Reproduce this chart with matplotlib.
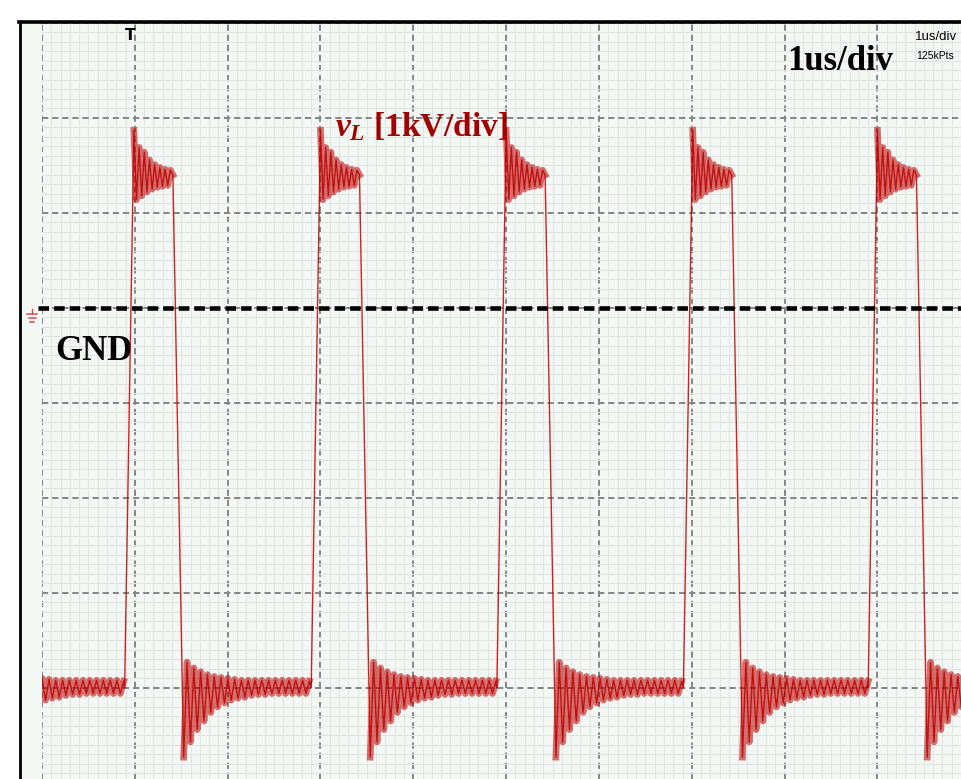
import numpy as np
import matplotlib.pyplot as plt
from matplotlib.lines import Line2D
from matplotlib.patches import Rectangle

plt.rcParams['mathtext.fontset'] = 'custom'
plt.rcParams['mathtext.rm'] = 'Liberation Serif:bold'
plt.rcParams['mathtext.it'] = 'Liberation Serif:italic:bold'

# screen: 1 us/div horizontal, 1 kV/div vertical
x_max = 9.9
y_top = 3.0
y_bottom = -4.96

# start of each rising edge [us]
rise_start = [-1.11, 0.89, 2.90, 4.90, 6.91, 8.90]

# one switching period, times relative to rise start [us], values [kV]
low_level = -4.0
rise_peak_t = 0.10
plateau_half = 0.028
plateau_peaks = [1.87, 1.69, 1.64, 1.56, 1.51, 1.48, 1.46, 1.45]
plateau_troughs = [1.14, 1.18, 1.22, 1.25, 1.27, 1.28, 1.29, 1.40]
fall_min_t = 0.636
low_half = 0.0366
low_troughs = [-4.73, -4.57, -4.44, -4.35, -4.26, -4.20, -4.16, -4.13, -4.11, -4.10,
               -4.08, -4.07, -4.07, -4.06, -4.06, -4.06, -4.06, -4.06, -4.06]
low_peaks = [-3.73, -3.79, -3.83, -3.86, -3.88, -3.89, -3.90, -3.91, -3.92, -3.92,
             -3.92, -3.92, -3.92, -3.92, -3.92, -3.92, -3.92, -3.92, -3.93]

# build trace from the read extrema
pl_v = np.ravel(np.column_stack([plateau_peaks, plateau_troughs]))
pl_t = rise_peak_t + plateau_half * np.arange(len(pl_v))
lo_v = np.ravel(np.column_stack([low_troughs, low_peaks]))
lo_t = fall_min_t + low_half * np.arange(len(lo_v))

t_all, v_all, t_ring, v_ring = [], [], [], []
for t0 in rise_start:
    t_all += [t0] + list(t0 + pl_t) + list(t0 + lo_t)
    v_all += [low_level] + list(pl_v) + list(lo_v)
    t_ring += list(t0 + pl_t) + [np.nan] + list(t0 + lo_t) + [np.nan]
    v_ring += list(pl_v) + [np.nan] + list(lo_v) + [np.nan]

fig = plt.figure(figsize=(9.61, 7.79), dpi=100)
fig.patch.set_facecolor('white')
W, H = 961.0, 779.0
ax = fig.add_axes([42 / W, 0, 1 - 42 / W, (779 - 23) / H])
ax.set_facecolor('#f4f8f5')
for s in ax.spines.values():
    s.set_visible(False)
ax.set_xlim(0, x_max)
ax.set_ylim(y_bottom, y_top)
ax.set_xticks(np.arange(0, 10, 1))
ax.set_xticks(np.arange(0, x_max, 0.1), minor=True)
ax.set_yticks(np.arange(-4, 4, 1))
ax.set_yticks(np.arange(-4.9, 3.0, 0.1), minor=True)
ax.tick_params(which='both', length=0, labelbottom=False, labelleft=False)
ax.set_axisbelow(True)
ax.grid(which='minor', color='#e1e6e2', lw=0.8, ls='-')
ax.grid(which='major', color='#858585', lw=1.4, ls=(0, (3.2, 2.0)))

# left strip + black frame
fig.add_artist(Rectangle((20 / W, 0), 22 / W, 1 - 23 / H, transform=fig.transFigure,
                         facecolor='#f4f8f5', edgecolor='none', zorder=0))
fig.add_artist(Line2D([19 / W, 1], [1 - 22 / H] * 2, color='black', lw=2.6))
fig.add_artist(Line2D([19.5 / W] * 2, [0, 1 - 22 / H], color='black', lw=2.0))

# ground marker (drawn, no font has the glyph)
gnd_c = '#d05050'
fig.add_artist(Line2D([32 / W] * 2, [1 - 309 / H, 1 - 314 / H], color=gnd_c, lw=1.0))
for y_px, half in [(314, 5), (318, 3.5), (322, 1.8)]:
    fig.add_artist(Line2D([(32 - half) / W, (32 + half) / W], [1 - y_px / H] * 2,
                          color=gnd_c, lw=1.1))

# trace: wide translucent pass for the persistence band, thin pass on top
ax.plot(t_ring, v_ring, color='#b80000', lw=4.8, alpha=0.55, zorder=3)
ax.plot(t_all, v_all, color='#c00000', lw=1.0, alpha=0.85, zorder=4)

# GND reference
ax.plot([-0.04, x_max], [0, 0], color='black', lw=3.3, ls=(0, (2.3, 1.1)),
        clip_on=False, zorder=5)
ax.text(0.14, -0.55, 'GND', fontsize=25, fontweight='bold',
        family='Liberation Serif', color='black', ha='left', va='baseline')

ax.text(3.16, 1.81, r'$v_L$ [1kV/div]', fontsize=24, fontweight='bold',
        family='Liberation Serif', color='#a00000', ha='left', va='baseline', zorder=6)
ax.text(8.6, 2.59, '1us/div', fontsize=25, fontweight='bold',
        family='Liberation Serif', color='black', ha='center', va='center')

ax.text(9.40, 2.82, '1us/div', fontsize=9.5, family='Liberation Sans',
        color='black', ha='left', va='baseline')
ax.text(9.42, 2.62, '125kPts', fontsize=7.5, family='Liberation Sans',
        color='black', ha='left', va='baseline')
ax.text(0.95, 2.82, 'T', fontsize=11, fontweight='bold', color='black',
        ha='center', va='baseline')

fig.savefig('out.png', dpi=100)
